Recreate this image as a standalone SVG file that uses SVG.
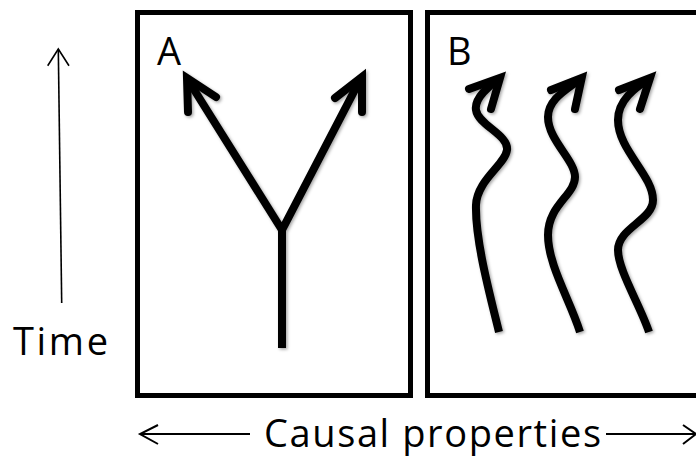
<svg xmlns="http://www.w3.org/2000/svg" width="696" height="459" viewBox="0 0 696 459">
<style>
.box{fill:none;stroke:#000;stroke-width:5}
.thick{fill:none;stroke:#000;stroke-width:8;stroke-linecap:butt;stroke-linejoin:round}
.head{fill:none;stroke:#000;stroke-width:8;stroke-linecap:round;stroke-linejoin:miter;stroke-miterlimit:10}
.thin{fill:none;stroke:#000;stroke-width:1.6}
.axis{fill:none;stroke:#000;stroke-width:2}
.lbl{font-family:"Open Sans","Noto Sans","Liberation Sans",sans-serif;font-size:38px;fill:#000}
</style>
<defs>
<filter id="sh" x="-20%" y="-20%" width="140%" height="140%">
<feDropShadow dx="1.5" dy="1.5" stdDeviation="1.5" flood-color="#000" flood-opacity="0.35"/>
</filter>
</defs>
<rect width="696" height="459" fill="#fff"/>
<g id="panelA">
<rect class="box" x="137.5" y="12.5" width="273" height="383"/>
<text class="lbl" x="157" y="65">A</text>
<g filter="url(#sh)">
<path class="thick" d="M282,348 L282,230 L188,80 M282,230 L360,80"/>
<polyline class="head" points="216,97 187,78 188,112"/>
<polyline class="head" points="335,98 362,77 362,112"/>
</g>
</g>
<g id="panelB">
<rect class="box" x="427.5" y="12.5" width="285" height="383"/>
<text class="lbl" x="447" y="65">B</text>
<g filter="url(#sh)">
<path class="thick" d="M499,332 C490,295 475,240 476,205 C477,180 505,165 507,150 C509,135 478,125 476,110 C474,98 490,85 499,79"/>
<polyline class="head" points="469,89 500,78 491,109"/>
<path class="thick" d="M580,332 C570,300 548,265 548,235 C548,205 575,195 575,177 C575,160 548,140 548,117 C548,98 570,88 580,79"/>
<polyline class="head" points="551,90 581.7,78 575,109"/>
<path class="thick" d="M649,332 C640,305 618,270 618,250 C618,228 653,220 653,200 C653,175 618,150 618,120 C618,100 635,88 649,79"/>
<polyline class="head" points="619,90 650,78 640,109"/>
</g>
</g>
<g id="timeAxis">
<line class="thin" x1="61.7" y1="303" x2="58.3" y2="49"/>
<polyline class="thin" points="47.7,65.7 58.3,49 69,65.7"/>
<text class="lbl" x="13" y="355" textLength="95">Time</text>
</g>
<g id="causalAxis">
<line class="axis" x1="141" y1="434" x2="250" y2="434"/>
<polyline class="axis" points="158,425 140,434 158,444"/>
<line class="axis" x1="606" y1="434" x2="695" y2="434"/>
<polyline class="axis" points="683,425 696,434 683,444"/>
<text class="lbl" x="264" y="447" textLength="337">Causal properties</text>
</g>
</svg>
